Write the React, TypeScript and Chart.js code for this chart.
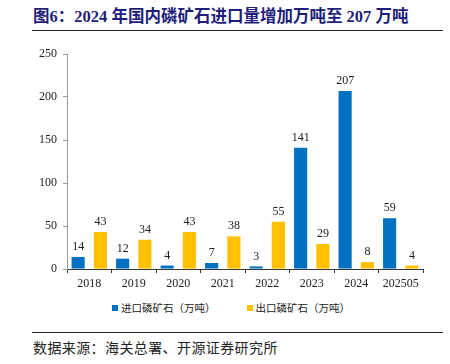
import React, { useEffect, useRef } from "react";
import { Chart, registerables } from "chart.js";

Chart.register(...registerables);

const categories = ["2018", "2019", "2020", "2021", "2022", "2023", "2024", "202505"];
const importValues = [14, 12, 4, 7, 3, 141, 207, 59];
const exportValues = [43, 34, 43, 38, 55, 29, 8, 4];
const yTicks = [0, 50, 100, 150, 200, 250];
const seriesNames = ["进口磷矿石（万吨）", "出口磷矿石（万吨）"];
const titleText = "图6：2024 年国内磷矿石进口量增加万吨至 207 万吨";
const sourceText = "数据来源：海关总署、开源证券研究所";

const BLUE = "#0070C0";
const YELLOW = "#FFC000";
const SERIF = "'Liberation Serif', 'Times New Roman', serif";
const CJK = "'Noto Sans CJK SC', sans-serif";

const labelPlugin = {
  id: "valueLabels",
  afterDatasetsDraw(chart: any) {
    const ctx = chart.ctx;
    ctx.save();
    ctx.font = `12px ${SERIF}`;
    ctx.fillStyle = "#222";
    ctx.textAlign = "center";
    ctx.textBaseline = "bottom";
    chart.data.datasets.forEach((ds: any, i: number) => {
      const meta = chart.getDatasetMeta(i);
      meta.data.forEach((bar: any, j: number) => {
        ctx.fillText(String(ds.data[j]), bar.x, bar.y - 4);
      });
    });
    ctx.restore();
  },
};

export default function App() {
  const ref = useRef<HTMLCanvasElement>(null);
  useEffect(() => {
    if (!ref.current) return;
    const chart = new Chart(ref.current, {
      type: "bar",
      data: {
        labels: categories,
        datasets: [
          { label: seriesNames[0], data: importValues, backgroundColor: BLUE, barPercentage: 0.59, categoryPercentage: 1 },
          { label: seriesNames[1], data: exportValues, backgroundColor: YELLOW, barPercentage: 0.59, categoryPercentage: 1 },
        ],
      },
      options: {
        animation: false,
        responsive: false,
        maintainAspectRatio: false,
        layout: { padding: { top: 14, right: 27, left: 0, bottom: 0 } },
        plugins: { legend: { display: false }, tooltip: { enabled: false }, title: { display: false } },
        scales: {
          x: {
            grid: { display: true, offset: true, drawOnChartArea: false, tickLength: 4, color: "#333" },
            border: { color: "#333", width: 1 },
            ticks: { font: { family: SERIF, size: 12 }, color: "#222", padding: 4, maxRotation: 0 },
            afterFit: (s: any) => { s.height = 21; },
          },
          y: {
            min: 0,
            max: 250,
            afterBuildTicks: (s: any) => { s.ticks = yTicks.map((v) => ({ value: v })); },
            grid: { display: true, drawOnChartArea: false, tickLength: 4, color: "#999" },
            border: { color: "#999", width: 1 },
            ticks: { font: { family: SERIF, size: 12 }, color: "#222", padding: 6 },
            afterFit: (s: any) => { s.width = 67; },
          },
        },
      },
      plugins: [labelPlugin],
    } as any);
    return () => chart.destroy();
  }, []);

  return (
    <div style={{ position: "fixed", left: 0, top: 0, width: 450, height: 364, background: "#fff", overflow: "hidden" }}>
      <div style={{ position: "absolute", left: 33, top: 7, fontFamily: `'Liberation Serif', 'Noto Sans CJK SC', serif`, fontWeight: "bold", fontSize: 16.5, color: "#1F1F7A", whiteSpace: "nowrap", lineHeight: "20px" }}>
        {titleText}
      </div>
      <div style={{ position: "absolute", left: 32, top: 30, width: 411, height: 1, background: "#222" }} />
      <canvas ref={ref} width={450} height={250} style={{ position: "absolute", left: 0, top: 40, width: 450, height: 250 }} />
      <div style={{ position: "absolute", left: 112, top: 300, display: "flex", alignItems: "center", fontFamily: CJK, fontSize: 10.5, color: "#222", whiteSpace: "nowrap" }}>
        <span style={{ display: "inline-block", width: 6, height: 6, background: BLUE, marginRight: 3 }} />
        <span>{seriesNames[0]}</span>
        <span style={{ display: "inline-block", width: 6, height: 6, background: YELLOW, marginLeft: 31, marginRight: 3 }} />
        <span>{seriesNames[1]}</span>
      </div>
      <div style={{ position: "absolute", left: 32, top: 332, width: 411, height: 1, background: "#222" }} />
      <div style={{ position: "absolute", left: 33, top: 338, fontFamily: CJK, fontSize: 14, letterSpacing: 0.4, color: "#222", whiteSpace: "nowrap", lineHeight: "18px" }}>
        {sourceText}
      </div>
    </div>
  );
}
